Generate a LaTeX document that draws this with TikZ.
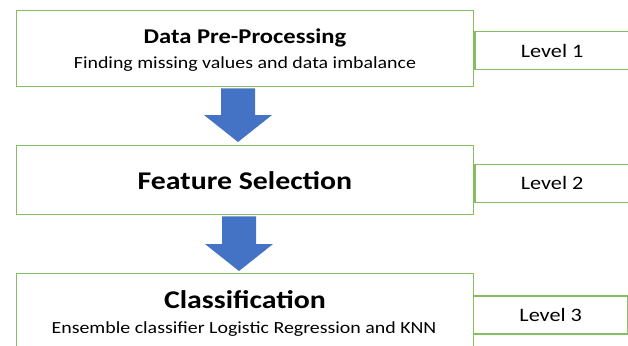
\documentclass[tikz,border=0pt]{standalone}
\usepackage{fontspec}
\setmainfont{Carlito}
\usetikzlibrary{calc}
\definecolor{boxgreen}{RGB}{132,190,96}
\definecolor{arrowblue}{RGB}{68,114,196}
% slightly widened lettering
\newcommand{\widetext}[1]{\scalebox{1.17}[1]{#1}}
% block arrow from a shaft top point to a tip point
\newcommand{\blockarrow}[2]{%
  \fill[flow] ($(#1)+(-17,0)$) -- ($(#1)+(17,0)$) -- ($(#2)+(17,-27)$)
    -- ($(#2)+(34,-27)$) -- (#2) -- ($(#2)+(-34,-27)$)
    -- ($(#2)+(-17,-27)$) -- cycle;}
\begin{document}
\begin{tikzpicture}[x=1pt,y=-1pt,
  stage/.style={draw=boxgreen, line width=1.4pt, fill=white, inner sep=0pt,
    minimum width=457pt, anchor=north west},
  levelbox/.style={draw=boxgreen, line width=1.4pt, fill=white, inner sep=0pt,
    minimum width=154pt, minimum height=38pt, anchor=west},
  leveltext/.style={anchor=base, inner sep=0pt, font=\fontsize{19}{21}\selectfont},
  title/.style={anchor=base, inner sep=0pt, font=\fontsize{21}{23}\selectfont\bfseries},
  bigtitle/.style={anchor=base, inner sep=0pt, font=\fontsize{25.5}{28}\selectfont\bfseries},
  sub/.style={anchor=base, inner sep=0pt, font=\fontsize{17}{19}\selectfont},
  flow/.style={fill=arrowblue}]
\useasboundingbox (0,0) rectangle (628,345);

% three stages
\node[stage, minimum height=76pt] (s1) at (16,10) {};
\node[stage, minimum height=69pt] (s2) at (16,145) {};
\node[stage, minimum height=90pt] (s3) at (16,273) {};

% level tags on the right
\node[levelbox] (l1) at ($(s1.east)+(0,2)$) {};
\node[levelbox] (l2) at ($(s2.east)+(0,3)$) {};
\node[levelbox] (l3) at (473,315) {};
\node[leveltext] (v1) at ($(l1.center)+(0,6.5)$) {\widetext{Level 1}};
\node[leveltext] (v2) at ($(l2.center)+(0,6.5)$) {\widetext{Level 2}};
\node[leveltext] (v3) at ($(l3.center)+(0,6.5)$) {\widetext{Level 3}};

% stage texts
\node[title] (t1) at (245,44) {\widetext{Data Pre-Processing}};
\node[sub] (d1) at (245,68) {\widetext{Finding missing values and data imbalance}};
\node[bigtitle] (t2) at (245,189) {\widetext{Feature Selection}};
\node[bigtitle] (t3) at (245,308) {\widetext{Classification}};
\node[sub] (d3) at (244,333) {\widetext{Ensemble classifier Logistic Regression and KNN}};

% block arrows between stages
\coordinate (a1s) at ($(s1.south west)+(222,1)$);
\coordinate (a1t) at ($(s2.north west)+(222,-3)$);
\coordinate (a2s) at ($(s2.south west)+(223,1)$);
\coordinate (a2t) at ($(s3.north west)+(223,-2)$);
\blockarrow{a1s}{a1t}
\blockarrow{a2s}{a2t}
\end{tikzpicture}
\end{document}
